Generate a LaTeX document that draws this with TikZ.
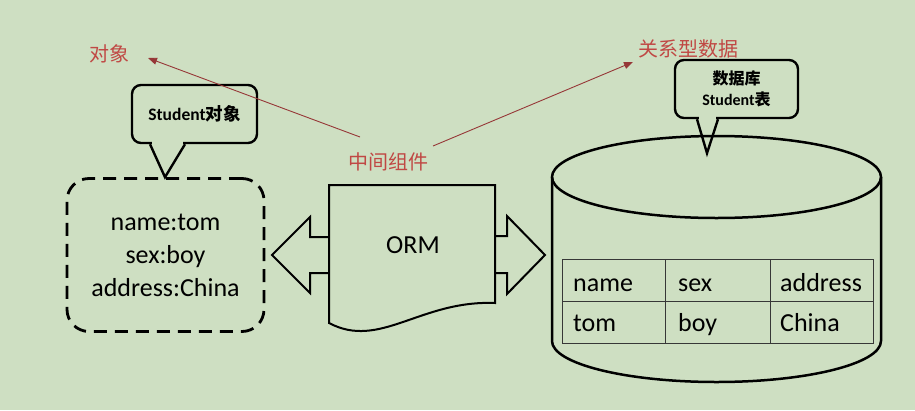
\documentclass[tikz,border=0pt]{standalone}
\usepackage{fontspec}
\setmainfont{Carlito}
\newfontfamily\cjk{Noto Sans CJK SC}
\usetikzlibrary{arrows.meta,calc}
\definecolor{bg}{RGB}{206,223,194}
\definecolor{lbl}{RGB}{192,72,68}
\definecolor{ln}{RGB}{150,55,55}
\definecolor{tbl}{RGB}{55,55,55}
\begin{document}
\begin{tikzpicture}[x=1pt,y=-1pt,
  lbltext/.style={text=lbl, font=\cjk\fontsize{20}{24}\selectfont, inner sep=0pt},
  callout/.style={draw, line width=2.4pt, rounded corners=9pt, fill=bg, align=center, inner sep=0pt},
  ptr/.style={line width=2.4pt, line join=miter},
  bigtext/.style={font=\fontsize{26}{33}\selectfont, inner sep=0pt},
  celltext/.style={font=\fontsize{26}{30}\selectfont, inner sep=0pt, anchor=base west},
  thick2/.style={line width=2pt, line join=miter},
  relarrow/.style={draw=ln, line width=0.9pt, -{Triangle[length=9pt,width=7pt]}}
]
\useasboundingbox (0,0) rectangle (915,410);
\fill[bg] (0,0) rectangle (915,410);

% ---- object side ----
\node[draw, dash pattern=on 13pt off 8pt, line width=2.8pt, rounded corners=22pt,
      minimum width=197pt, minimum height=153pt, align=center, bigtext]
      (objbox) at (165.5,255) {name:tom\\sex:boy\\address:China};

\node[callout, minimum width=125pt, minimum height=58pt,
      font=\fontsize{17.5}{20}\selectfont\bfseries] (c1) at (194.5,114) {Student{\cjk 对象}};
\coordinate (c1a) at ($(c1.south)+(-44.5,0)$);
\coordinate (c1b) at ($(c1.south)+(-9.5,0)$);
\coordinate (c1t) at ($(c1.south)+(-29.5,33)$);
\fill[bg] ($(c1a)+(1.6,-3)$) rectangle ($(c1b)+(-1.6,3.5)$);
\draw[ptr] (c1a) -- (c1t) -- (c1b);

% ---- ORM ----
\draw[thick2, fill=bg] (329,185) -- (495,185) -- (495,303)
   .. controls (420,300) and (380,350) .. (329,323) -- cycle;
\node[bigtext] (orm) at (413,245) {ORM};
\draw[thick2] (329,237) -- (310,237) -- (310,217) -- (272,255) -- (310,293) -- (310,273) -- (329,273);
\draw[thick2] (495,236) -- (507,236) -- (507,216) -- (545,255) -- (507,294) -- (507,273) -- (495,273);

% ---- database cylinder ----
\draw[line width=2.5pt] (716.5,177) ellipse [x radius=164.5, y radius=41];
\draw[line width=2.5pt] (552,177) -- (552,341)
   .. controls (552,363.6) and (625.65,382) .. (716.5,382)
   .. controls (807.35,382) and (881,363.6) .. (881,341) -- (881,177);

% table
\draw[tbl, line width=1pt] (562,259) rectangle (873,343);
\draw[tbl, line width=1pt] (562,301) -- (873,301);
\draw[tbl, line width=1pt] (665,259) -- (665,343);
\draw[tbl, line width=1pt] (770,259) -- (770,343);
\node[celltext] (h1) at (573,291) {name};
\node[celltext] (h2) at (678,291) {sex};
\node[celltext] (h3) at (780,291) {address};
\node[celltext] (r1) at (573,331) {tom};
\node[celltext] (r2) at (678,331) {boy};
\node[celltext] (r3) at (780,331) {China};

\node[callout, minimum width=123pt, minimum height=58pt,
      font=\cjk\fontsize{16}{21}\selectfont\bfseries] (c2) at (736.5,89)
      {数据库\\{\fontspec{Carlito}\bfseries Student}表};
\coordinate (c2a) at ($(c2.south)+(-39.5,0)$);
\coordinate (c2b) at ($(c2.south)+(-18.5,0)$);
\coordinate (c2t) at ($(c2.south)+(-29.5,34)$);
\fill[bg] ($(c2a)+(1.6,-3)$) rectangle ($(c2b)+(-1.6,3.5)$);
\draw[ptr] (c2a) -- (c2t) -- (c2b);

% ---- labels and pointers ----
\node[lbltext] (obj) at (109,54) {对象};
\node[lbltext] (rel) at (688,49) {关系型数据};
\node[lbltext] (mid) at (388,162) {中间组件};
\coordinate (ml) at (360,137);
\coordinate (mr) at (433,146);
\coordinate (objtip) at (148,58);
\coordinate (reltip) at (633,62);
\draw[relarrow] (ml) -- (objtip);
\draw[relarrow] (mr) -- (reltip);
\end{tikzpicture}
\end{document}
